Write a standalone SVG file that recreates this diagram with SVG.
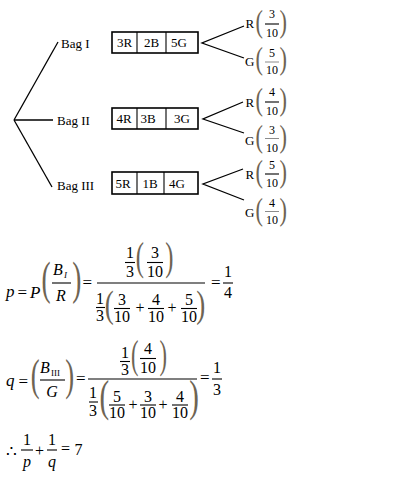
<svg xmlns="http://www.w3.org/2000/svg" width="415" height="490" viewBox="0 0 415 490">
<style>
text { font-family: "Liberation Serif", "Times New Roman", serif; fill: #000; }
.n12 { font-size: 12px; }
.n13 { font-size: 13px; }
.n16 { font-size: 16px; }
.i16 { font-size: 16px; font-style: italic; }
.i17 { font-size: 17px; font-style: italic; }
.r17 { font-size: 17px; }
.m { text-anchor: middle; }
.par { fill: #6e6453; font-size: 32px; }
.ln { stroke: #000; stroke-width: 1.3; fill: none; }
.box { stroke: #000; stroke-width: 1.6; fill: #fff; }
.bk { stroke: #000; stroke-width: 1.1; }
.gy { stroke: #8c8c8c; stroke-width: 1; }
</style>
<rect width="415" height="490" fill="#fff"/>

<g id="connectors">
  <line class="ln" x1="14" y1="120" x2="58" y2="42"/>
  <line class="ln" x1="14" y1="120" x2="53" y2="120"/>
  <line class="ln" x1="14" y1="120" x2="52" y2="187"/>
  <polyline class="ln" points="244,26 202,43 244,58"/>
  <polyline class="ln" points="243,102 203,119 244,133"/>
  <polyline class="ln" points="243,169 203,184 244,200"/>
</g>

<g id="bag1">
  <text class="n13" x="61" y="47.5">Bag I</text>
  <rect class="box" x="112" y="32" width="86" height="21"/>
  <line class="bk" x1="137" y1="32" x2="137" y2="53"/>
  <line class="bk" x1="166" y1="32" x2="166" y2="53"/>
  <text class="n13 m" x="124.5" y="47">3R</text>
  <text class="n13 m" x="151.5" y="47">2B</text>
  <text class="n13 m" x="179" y="47">5G</text>
</g>
<g id="bag2">
  <text class="n13" x="57" y="124.5">Bag II</text>
  <rect class="box" x="112" y="108" width="86" height="21"/>
  <line class="bk" x1="137" y1="108" x2="137" y2="129"/>
  <line class="bk" x1="166" y1="108" x2="166" y2="129"/>
  <text class="n13 m" x="124" y="123">4R</text>
  <text class="n13 m" x="148" y="123">3B</text>
  <text class="n13 m" x="182" y="123">3G</text>
</g>
<g id="bag3">
  <text class="n13" x="57" y="189.5">Bag III</text>
  <rect class="box" x="112" y="172" width="86" height="22"/>
  <line class="bk" x1="137" y1="172" x2="137" y2="194"/>
  <line class="bk" x1="164" y1="172" x2="164" y2="194"/>
  <text class="n13 m" x="123" y="187.5">5R</text>
  <text class="n13 m" x="150" y="187.5">1B</text>
  <text class="n13 m" x="177" y="187.5">4G</text>
</g>

<g id="out1R">
  <text class="n13" x="245.5" y="27.5">R</text>
  <text class="par" transform="translate(255.5,31.5) scale(0.7,1)">(</text>
  <text class="par" transform="translate(279.5,31.5) scale(0.7,1)">)</text>
  <text class="n12 m" x="272" y="18">3</text>
  <line class="bk" x1="265" y1="24" x2="279" y2="24"/>
  <text class="n12 m" x="272" y="37">10</text>
</g>
<g id="out1G">
  <text class="n13" x="245" y="65.5">G</text>
  <text class="par" transform="translate(255.5,69) scale(0.7,1)">(</text>
  <text class="par" transform="translate(279.5,69) scale(0.7,1)">)</text>
  <text class="n12 m" x="272" y="57">5</text>
  <line class="gy" x1="265" y1="62" x2="279" y2="62"/>
  <text class="n12 m" x="272" y="74">10</text>
</g>
<g id="out2R">
  <text class="n13" x="245.5" y="106.5">R</text>
  <text class="par" transform="translate(255.5,110) scale(0.7,1)">(</text>
  <text class="par" transform="translate(279.5,110) scale(0.7,1)">)</text>
  <text class="n12 m" x="272" y="96">4</text>
  <line class="bk" x1="265" y1="102" x2="279" y2="102"/>
  <text class="n12 m" x="272" y="115">10</text>
</g>
<g id="out2G">
  <text class="n13" x="245" y="144.5">G</text>
  <text class="par" transform="translate(255.5,147) scale(0.7,1)">(</text>
  <text class="par" transform="translate(279.5,147) scale(0.7,1)">)</text>
  <text class="n12 m" x="272" y="134">3</text>
  <line class="gy" x1="265" y1="138.5" x2="279" y2="138.5"/>
  <text class="n12 m" x="272" y="152">10</text>
</g>
<g id="out3R">
  <text class="n13" x="245.5" y="178.5">R</text>
  <text class="par" transform="translate(255.5,182) scale(0.7,1)">(</text>
  <text class="par" transform="translate(279.5,182) scale(0.7,1)">)</text>
  <text class="n12 m" x="272" y="169">5</text>
  <line class="bk" x1="265" y1="174" x2="279" y2="174"/>
  <text class="n12 m" x="272" y="187">10</text>
</g>
<g id="out3G">
  <text class="n13" x="245" y="216.5">G</text>
  <text class="par" transform="translate(255.5,220) scale(0.7,1)">(</text>
  <text class="par" transform="translate(279.5,220) scale(0.7,1)">)</text>
  <text class="n12 m" x="272" y="207">4</text>
  <line class="gy" x1="265" y1="211.5" x2="279" y2="211.5"/>
  <text class="n12 m" x="272" y="224">10</text>
</g>

<g id="formula-p">
  <text class="i17" x="6" y="297">p</text>
  <text class="r17" x="17.5" y="298">=</text>
  <text class="i17" x="30" y="298">P</text>
  <text class="par" style="font-size:45.7px" transform="translate(41.6,293.9) scale(0.6,1)">(</text>
  <text class="par" style="font-size:45.7px" transform="translate(72.2,293.9) scale(0.6,1)">)</text>
  <text class="i16" x="53" y="275">B</text>
  <text class="i16" style="font-size:9px" x="64" y="278">I</text>
  <line class="bk" x1="52" y1="283" x2="71" y2="283"/>
  <text class="i16 m" x="61" y="301">R</text>
  <text class="r17" x="82.5" y="288">=</text>
  <line class="bk" x1="97" y1="283" x2="205" y2="283"/>
  <text class="n16 m" x="130" y="258.4">1</text>
  <line class="bk" x1="125" y1="262.5" x2="135" y2="262.5"/>
  <text class="n16 m" x="130" y="277.4">3</text>
  <text class="par" style="font-size:41px" transform="translate(135.8,269.8) scale(0.6,1)">(</text>
  <text class="par" style="font-size:41px" transform="translate(165.3,269.8) scale(0.6,1)">)</text>
  <text class="n16 m" x="155" y="258.4">3</text>
  <line class="bk" x1="147" y1="262.5" x2="163" y2="262.5"/>
  <text class="n16 m" x="155" y="277.4">10</text>
  <text class="n16 m" x="100" y="304.4">1</text>
  <line class="bk" x1="96" y1="307.5" x2="105" y2="307.5"/>
  <text class="n16 m" x="100" y="321.4">3</text>
  <text class="par" style="font-size:38.7px" transform="translate(104.7,316.7) scale(0.7,1)">(</text>
  <text class="par" style="font-size:38.7px" transform="translate(196.2,316.7) scale(0.7,1)">)</text>
  <text class="n16 m" x="122" y="305.4">3</text>
  <line class="bk" x1="114" y1="308.5" x2="130" y2="308.5"/>
  <text class="n16 m" x="122" y="322.4">10</text>
  <text class="n16 m" x="140" y="313">+</text>
  <text class="n16 m" x="156" y="305.4">4</text>
  <line class="bk" x1="148" y1="308.5" x2="164" y2="308.5"/>
  <text class="n16 m" x="156" y="322.4">10</text>
  <text class="n16 m" x="172" y="313">+</text>
  <text class="n16 m" x="189" y="305.4">5</text>
  <line class="bk" x1="181" y1="308.5" x2="197" y2="308.5"/>
  <text class="n16 m" x="189" y="322.4">10</text>
  <text class="r17" x="211" y="288">=</text>
  <text class="n16 m" x="228" y="277.4">1</text>
  <line class="bk" x1="223" y1="283" x2="233" y2="283"/>
  <text class="n16 m" x="228" y="298.4">4</text>
</g>

<g id="formula-q">
  <text class="i17" x="6" y="386">q</text>
  <text class="r17" x="18.5" y="387">=</text>
  <text class="par" style="font-size:44.5px" transform="translate(30.7,390.1) scale(0.6,1)">(</text>
  <text class="par" style="font-size:44.5px" transform="translate(65.2,390.1) scale(0.6,1)">)</text>
  <text class="i16" x="40" y="373.3">B</text>
  <text class="n12" style="font-size:9px" x="51" y="376">III</text>
  <line class="bk" x1="40" y1="380" x2="65" y2="380"/>
  <text class="i16 m" x="52" y="397.3">G</text>
  <text class="r17" x="76" y="384">=</text>
  <line class="bk" x1="88" y1="379" x2="197" y2="379"/>
  <text class="n16 m" x="125" y="358.4">1</text>
  <line class="bk" x1="120" y1="361.5" x2="130" y2="361.5"/>
  <text class="n16 m" x="125" y="375.4">3</text>
  <text class="par" style="font-size:41px" transform="translate(131,367.8) scale(0.55,1)">(</text>
  <text class="par" style="font-size:41px" transform="translate(159.4,367.8) scale(0.55,1)">)</text>
  <text class="n16 m" x="148" y="354.4">4</text>
  <line class="bk" x1="140" y1="358.5" x2="156" y2="358.5"/>
  <text class="n16 m" x="148" y="373.4">10</text>
  <text class="n16 m" x="93" y="398.4">1</text>
  <line class="bk" x1="89" y1="402" x2="98" y2="402"/>
  <text class="n16 m" x="93" y="416.4">3</text>
  <text class="par" style="font-size:44.5px" transform="translate(99.6,411) scale(0.65,1)">(</text>
  <text class="par" style="font-size:44.5px" transform="translate(189.2,411) scale(0.65,1)">)</text>
  <text class="n16 m" x="117" y="402.4">5</text>
  <line class="bk" x1="109" y1="405" x2="125" y2="405"/>
  <text class="n16 m" x="117" y="418.4">10</text>
  <text class="n16 m" x="133" y="410">+</text>
  <text class="n16 m" x="148" y="402.4">3</text>
  <line class="bk" x1="140" y1="405" x2="156" y2="405"/>
  <text class="n16 m" x="148" y="418.4">10</text>
  <text class="n16 m" x="163" y="410">+</text>
  <text class="n16 m" x="180" y="402.4">4</text>
  <line class="bk" x1="172" y1="405" x2="188" y2="405"/>
  <text class="n16 m" x="180" y="418.4">10</text>
  <text class="r17" x="200" y="383">=</text>
  <text class="n16 m" x="217" y="373.4">1</text>
  <line class="bk" x1="212" y1="379" x2="222" y2="379"/>
  <text class="n16 m" x="217" y="395.4">3</text>
</g>

<g id="formula-sum">
  <text class="r17" x="6" y="457">∴</text>
  <text class="n16 m" x="27" y="445.4">1</text>
  <line class="bk" x1="21" y1="450" x2="33" y2="450"/>
  <text class="i16 m" x="27" y="467">p</text>
  <text class="n16 m" x="39.5" y="456">+</text>
  <text class="n16 m" x="52" y="445.4">1</text>
  <line class="bk" x1="47" y1="450" x2="57" y2="450"/>
  <text class="i16 m" x="52" y="467">q</text>
  <text class="n16" x="61" y="454">=</text>
  <text class="n16 m" x="78.5" y="455.4">7</text>
</g>
</svg>
